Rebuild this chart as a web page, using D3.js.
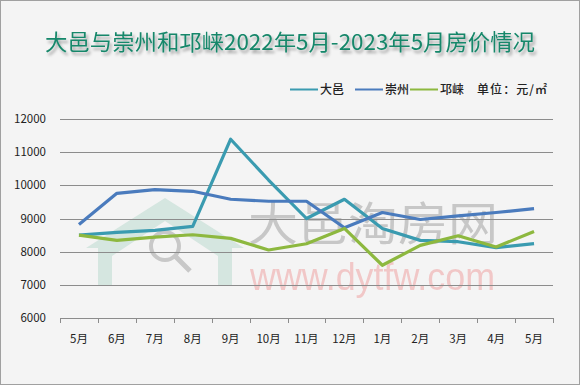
<!DOCTYPE html>
<html>
<head>
<meta charset="utf-8">
<script src="https://cdn.jsdelivr.net/npm/d3@7"></script>
<style>
  body { margin: 0; background: #fff; }
  svg { display: block; font-family: "Noto Sans CJK SC", "Noto Sans", sans-serif; }
</style>
</head>
<body>
<div id="chart"></div>
<script>
const months = ['5月', '6月', '7月', '8月', '9月', '10月', '11月', '12月', '1月', '2月', '3月', '4月', '5月'];
const dayi = [8500, 8580, 8640, 8760, 11390, 10160, 9000, 9580, 8700, 8340, 8300, 8120, 8240];
const chongzhou = [8820, 9760, 9870, 9820, 9580, 9520, 9520, 8720, 9180, 8970, 9080, 9180, 9300];
const qionglai = [8500, 8340, 8440, 8510, 8400, 8050, 8240, 8700, 7590, 8190, 8480, 8140, 8610];
const yTicks = [6000, 7000, 8000, 9000, 10000, 11000, 12000];

const series = [
  { name: '大邑', values: dayi, color: '#3a9bb0' },
  { name: '崇州', values: chongzhou, color: '#4a7bbd' },
  { name: '邛崃', values: qionglai, color: '#8db83f' }
];

const width = 580, height = 385;
const svg = d3.select('#chart').append('svg')
  .attr('width', width)
  .attr('height', height);

const defs = svg.append('defs');
const shadow = defs.append('filter').attr('id', 'shadow')
  .attr('x', '-10%').attr('y', '-40%').attr('width', '120%').attr('height', '200%');
shadow.append('feDropShadow')
  .attr('dx', 2).attr('dy', 3).attr('stdDeviation', 1.8)
  .attr('flood-color', '#000').attr('flood-opacity', 0.35);

// background + frame
svg.append('rect')
  .attr('x', 0.5).attr('y', 0.5)
  .attr('width', width - 1).attr('height', height - 1)
  .attr('fill', '#f4f4f4')
  .attr('stroke', '#a0a0a0');

// title
svg.append('text')
  .attr('x', 290).attr('y', 50)
  .attr('text-anchor', 'middle')
  .attr('fill', '#16876a')
  .attr('font-size', 22)
  .attr('textLength', 490)
  .attr('lengthAdjust', 'spacingAndGlyphs')
  .attr('filter', 'url(#shadow)')
  .text('大邑与崇州和邛崃2022年5月-2023年5月房价情况');

const x = d3.scaleBand().domain(d3.range(months.length)).range([60, 553]);
const y = d3.scaleLinear().domain([6000, 12000]).range([318, 119]);

// watermark
const wm = svg.append('g');
wm.append('path')
  .attr('d', 'M86,248 L165,198 L244,248 L232,248 L232,286 L218,286 L218,256 L165,221 L112,256 L112,286 L98,286 L98,248 Z')
  .attr('fill', '#cfe3dc').attr('opacity', 0.85);
wm.append('circle').attr('cx', 165).attr('cy', 246).attr('r', 14)
  .attr('fill', 'none').attr('stroke', '#c8c8c8').attr('stroke-width', 4);
wm.append('line').attr('x1', 175).attr('y1', 256).attr('x2', 190).attr('y2', 271)
  .attr('stroke', '#c8c8c8').attr('stroke-width', 5);
wm.append('text')
  .attr('x', 248).attr('y', 240)
  .attr('fill', '#bdbdbd').attr('opacity', 0.8)
  .attr('font-size', 46)
  .attr('textLength', 250).attr('lengthAdjust', 'spacingAndGlyphs')
  .text('大邑淘房网');
wm.append('text')
  .attr('x', 250).attr('y', 290)
  .attr('fill', '#f0b8b8').attr('opacity', 0.75)
  .attr('font-family', '"Liberation Sans", sans-serif')
  .attr('font-size', 38)
  .attr('textLength', 245).attr('lengthAdjust', 'spacingAndGlyphs')
  .text('www.dytfw.com');

// gridlines
svg.append('g')
  .selectAll('line')
  .data(yTicks.slice(1))
  .join('line')
  .attr('x1', 60).attr('x2', 553)
  .attr('y1', d => Math.round(y(d)) + 0.5)
  .attr('y2', d => Math.round(y(d)) + 0.5)
  .attr('stroke', '#8c8c8c');

// y labels
svg.append('g')
  .selectAll('text')
  .data(yTicks)
  .join('text')
  .attr('x', 46)
  .attr('y', d => y(d) + 4)
  .attr('text-anchor', 'end')
  .attr('font-size', 11.5)
  .attr('fill', '#222')
  .text(d => d);

// x axis
const xAxis = svg.append('g');
xAxis.append('line')
  .attr('x1', 60).attr('x2', 553.5)
  .attr('y1', 318.5).attr('y2', 318.5)
  .attr('stroke', '#8c8c8c');
xAxis.selectAll('line.tick')
  .data(d3.range(months.length + 1))
  .join('line')
  .attr('class', 'tick')
  .attr('x1', i => Math.round(60 + i * x.step()) + 0.5)
  .attr('x2', i => Math.round(60 + i * x.step()) + 0.5)
  .attr('y1', 318).attr('y2', 323)
  .attr('stroke', '#8c8c8c');
xAxis.selectAll('text')
  .data(months)
  .join('text')
  .attr('x', (d, i) => x(i) + x.bandwidth() / 2)
  .attr('y', 343)
  .attr('text-anchor', 'middle')
  .attr('font-size', 11.5)
  .attr('fill', '#222')
  .text(d => d);

// lines
const line = d3.line()
  .x((d, i) => x(i) + x.bandwidth() / 2)
  .y(d => y(d));

svg.append('g')
  .selectAll('path')
  .data(series)
  .join('path')
  .attr('d', d => line(d.values))
  .attr('fill', 'none')
  .attr('stroke', d => d.color)
  .attr('stroke-width', 3.2)
  .attr('stroke-linejoin', 'round');

// legend
const legendPos = [290, 355, 410];
const legend = svg.append('g');
series.forEach((s, i) => {
  legend.append('line')
    .attr('x1', legendPos[i]).attr('x2', legendPos[i] + 28)
    .attr('y1', 89.5).attr('y2', 89.5)
    .attr('stroke', s.color).attr('stroke-width', 2);
  legend.append('text')
    .attr('x', legendPos[i] + 30).attr('y', 94)
    .attr('font-size', 12).attr('font-weight', 500)
    .attr('fill', '#222')
    .text(s.name);
});
legend.append('text')
  .attr('x', 477).attr('y', 94)
  .attr('font-size', 12).attr('font-weight', 500)
  .attr('fill', '#222')
  .attr('textLength', 70)
  .attr('lengthAdjust', 'spacing')
  .text('单位：元/㎡');
</script>
</body>
</html>
